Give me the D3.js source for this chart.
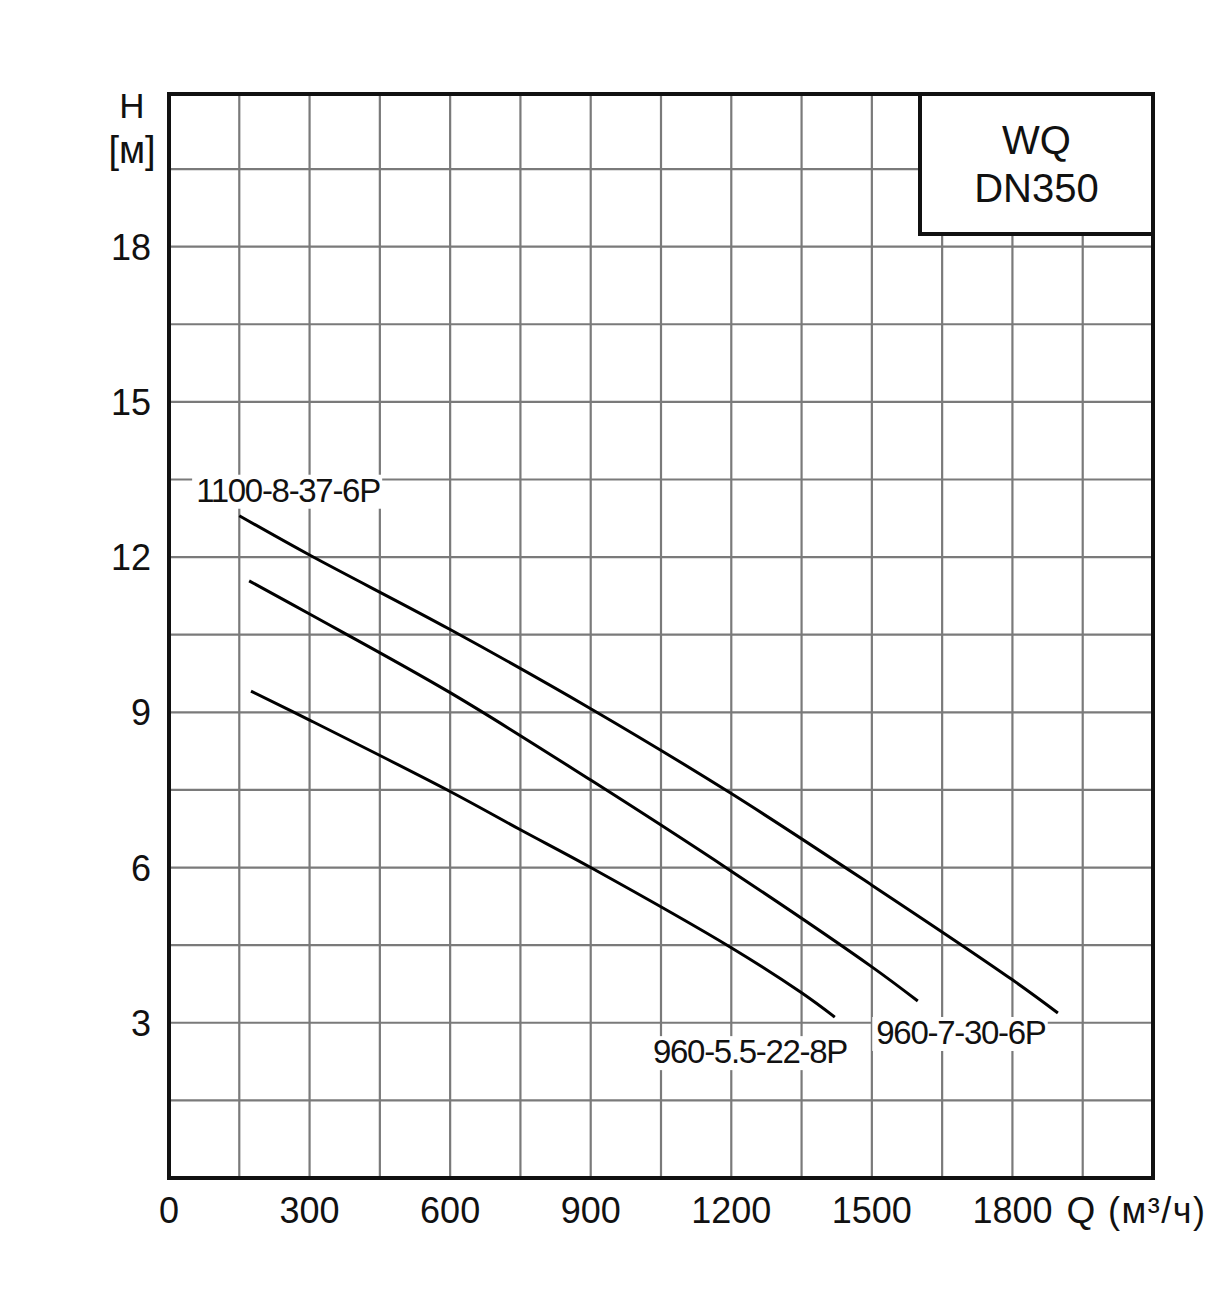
<!DOCTYPE html>
<html>
<head>
<meta charset="utf-8">
<script src="https://cdn.jsdelivr.net/npm/d3@7"></script>
<style>
  html, body { margin: 0; padding: 0; background: #fff; }
  text { font-family: "Liberation Sans", Arial, sans-serif; fill: #111; }
</style>
</head>
<body>
<svg id="chart" width="1231" height="1299"></svg>
<script>
// ---- data ----
const xTicks = [0, 300, 600, 900, 1200, 1500, 1800];
const yTicks = [3, 6, 9, 12, 15, 18];
const seriesNames = ["1100-8-37-6P", "960-7-30-6P", "960-5.5-22-8P"];
const q1 = [150, 300, 600, 900, 1200, 1500, 1800, 1897];
const h1 = [12.8, 12.04, 10.6, 9.07, 7.43, 5.66, 3.83, 3.19];
const q2 = [171, 300, 600, 900, 1200, 1500, 1598];
const h2 = [11.54, 10.9, 9.38, 7.69, 5.93, 4.08, 3.42];
const q3 = [175, 300, 600, 750, 900, 1200, 1350, 1421];
const h3 = [9.41, 8.85, 7.47, 6.73, 6.0, 4.45, 3.58, 3.11];
// label anchor points (data units, baseline centre)
const labelPos = [[254, 13.07], [1690, 2.59], [1240, 2.22]];

// ---- layout ----
const svg = d3.select("#chart");
const x = d3.scaleLinear().domain([0, 2100]).range([169, 1153]);
const y = d3.scaleLinear().domain([0, 20.95]).range([1178, 94]);

const gridX = d3.range(150, 2100, 150);
const gridY = d3.range(1.5, 20.9, 1.5);

const g = svg.append("g");
g.selectAll("line.gx").data(gridX).enter().append("line")
  .attr("x1", d => x(d)).attr("x2", d => x(d))
  .attr("y1", y(0)).attr("y2", y(20.95))
  .attr("stroke", "#7a7a7a").attr("stroke-width", 2.2);
g.selectAll("line.gy").data(gridY).enter().append("line")
  .attr("x1", x(0)).attr("x2", x(2100))
  .attr("y1", d => y(d)).attr("y2", d => y(d))
  .attr("stroke", "#7a7a7a").attr("stroke-width", 2.2);

// curves
const line = d3.line().x(d => x(d[0])).y(d => y(d[1])).curve(d3.curveCatmullRom.alpha(0.5));
const series = [d3.zip(q1, h1), d3.zip(q2, h2), d3.zip(q3, h3)];
g.selectAll("path.curve").data(series).enter().append("path")
  .attr("d", line).attr("fill", "none")
  .attr("stroke", "#000").attr("stroke-width", 3);

// curve labels with white background
const labels = g.selectAll("g.lbl").data(seriesNames).enter().append("g");
labels.each(function(name, i) {
  const gg = d3.select(this);
  const t = gg.append("text")
    .attr("x", x(labelPos[i][0])).attr("y", y(labelPos[i][1]))
    .attr("text-anchor", "middle")
    .attr("font-size", 33).attr("letter-spacing", -1.3)
    .text(name);
  const bb = t.node().getBBox();
  gg.insert("rect", "text")
    .attr("x", bb.x - 4).attr("y", bb.y + 3)
    .attr("width", bb.width + 6).attr("height", bb.height - 3)
    .attr("fill", "#fff");
});

// frame
g.append("rect")
  .attr("x", x(0)).attr("y", y(20.95))
  .attr("width", x(2100) - x(0)).attr("height", y(0) - y(20.95))
  .attr("fill", "none").attr("stroke", "#111").attr("stroke-width", 4);

// title box
const bx0 = 920, by1 = 234;
g.append("rect")
  .attr("x", bx0).attr("y", y(20.95))
  .attr("width", x(2100) - bx0).attr("height", by1 - y(20.95))
  .attr("fill", "#fff").attr("stroke", "#111").attr("stroke-width", 4);
g.append("text").attr("x", (bx0 + x(2100)) / 2).attr("y", 154)
  .attr("text-anchor", "middle").attr("font-size", 40).text("WQ");
g.append("text").attr("x", (bx0 + x(2100)) / 2).attr("y", 202)
  .attr("text-anchor", "middle").attr("font-size", 40).text("DN350");

// x tick labels
g.selectAll("text.xt").data(xTicks).enter().append("text")
  .attr("x", d => x(d)).attr("y", 1223)
  .attr("text-anchor", "middle").attr("font-size", 36)
  .text(d => d);
g.append("text").attr("x", 1081).attr("y", 1223)
  .attr("text-anchor", "middle").attr("font-size", 37).text("Q");
g.append("text").attr("x", 1108).attr("y", 1223)
  .attr("text-anchor", "start").attr("font-size", 36).attr("letter-spacing", 1.5).text("(м³/ч)");

// y tick labels
g.selectAll("text.yt").data(yTicks).enter().append("text")
  .attr("x", 151).attr("y", d => y(d) + 13)
  .attr("text-anchor", "end").attr("font-size", 36)
  .text(d => d);
g.append("text").attr("x", 132).attr("y", 118)
  .attr("text-anchor", "middle").attr("font-size", 35).text("H");
g.append("text").attr("x", 132).attr("y", 163)
  .attr("text-anchor", "middle").attr("font-size", 38).text("[м]");
</script>
</body>
</html>
